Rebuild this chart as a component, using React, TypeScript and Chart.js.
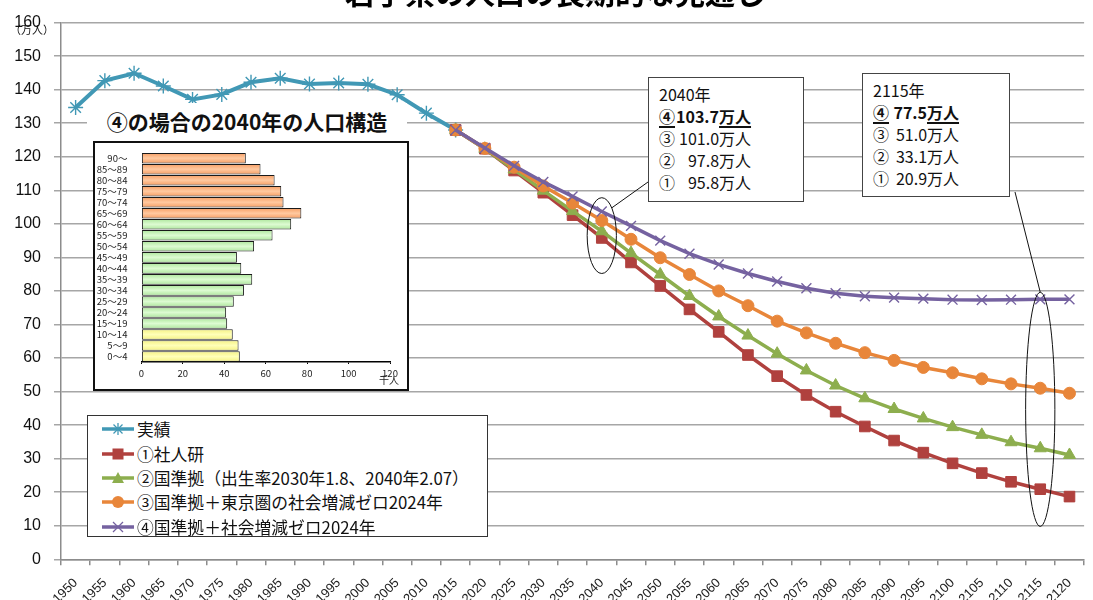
import React, { useEffect, useRef } from "react";
import { Chart, registerables } from "chart.js";

Chart.register(...registerables);

const JP = '"Noto Sans CJK JP", "Noto Sans", sans-serif';

// 年（国勢調査・推計年）
const years = [
  "1950", "1955", "1960", "1965", "1970", "1975", "1980", "1985", "1990", "1995",
  "2000", "2005", "2010", "2015", "2020", "2025", "2030", "2035", "2040", "2045",
  "2050", "2055", "2060", "2065", "2070", "2075", "2080", "2085", "2090", "2095",
  "2100", "2105", "2110", "2115", "2120",
];

// 実績（万人）1950–2015
const actual = [134.7, 142.7, 144.9, 141.1, 137.1, 138.6, 142.2, 143.4, 141.7, 142.0, 141.6, 138.5, 133.0, 128.0];

// 推計（万人）2015–2120
const projIpss = [128.0, 122.4, 115.9, 109.3, 102.6, 95.8, 88.5, 81.5, 74.5, 67.8, 60.9, 54.6, 49.0, 44.0, 39.6, 35.4, 31.8, 28.6, 25.7, 23.1, 20.9, 18.7];
const projNational = [128.0, 122.4, 116.2, 109.9, 103.8, 97.8, 91.3, 84.9, 78.5, 72.4, 66.7, 61.3, 56.3, 51.8, 48.0, 44.8, 42.0, 39.4, 37.1, 34.9, 33.1, 31.1];
const projTokyoZero = [128.0, 122.5, 116.9, 111.3, 106.2, 101.0, 95.4, 89.9, 84.9, 80.0, 75.6, 71.0, 67.5, 64.4, 61.6, 59.3, 57.2, 55.6, 53.8, 52.3, 51.0, 49.5];
const projSocialZero = [128.0, 122.6, 117.3, 112.5, 108.2, 103.7, 99.4, 95.0, 91.1, 87.9, 85.2, 82.8, 80.8, 79.3, 78.4, 78.0, 77.7, 77.4, 77.3, 77.4, 77.5, 77.5];

const yTicks = { min: 0, max: 160, step: 10 };

// ④の場合の2040年の人口構造（千人）
const ageGroups = [
  "90～", "85～89", "80～84", "75～79", "70～74", "65～69", "60～64", "55～59", "50～54",
  "45～49", "40～44", "35～39", "30～34", "25～29", "20～24", "15～19", "10～14", "5～9", "0～4",
];
const pop2040 = [50.4, 57.5, 64.3, 67.5, 68.6, 77.2, 72.3, 63.3, 54.4, 46.1, 48.2, 53.5, 49.5, 44.6, 40.9, 41.4, 44.1, 46.9, 47.5];
const pyramidTicks = { min: 0, max: 120, step: 20 };

// 楕円で囲む年と範囲（万人）
const callouts = [
  { year: "2040", top: 107.8, bottom: 85.2, angle: -47, anchor: [648, 182] },
  { year: "2115", top: 79.6, bottom: 9.8, angle: -90, anchor: [1015, 192] },
];

const COLORS = {
  actual: "#4198B5",
  ipss: "#B0413E",
  national: "#8DAE4E",
  tokyo: "#E8863A",
  social: "#7562A0",
};

// 年齢区分ごとの棒の色（縁, 中央）
const BAR_SHADES = {
  elderly: ["#F5975A", "#FFC9A0"],
  working: ["#A6E394", "#DDFBD2"],
  young: ["#F4F07A", "#FFFFB8"],
};

const startIdx = years.indexOf("2015");
const pad = (arr: number[]) => [...Array(startIdx).fill(null), ...arr];

const legendItems = [
  { label: "実績", color: COLORS.actual, marker: "star" },
  { label: "①社人研", color: COLORS.ipss, marker: "rect" },
  { label: "②国準拠（出生率2030年1.8、2040年2.07）", color: COLORS.national, marker: "triangle" },
  { label: "③国準拠＋東京圏の社会増減ゼロ2024年", color: COLORS.tokyo, marker: "circle" },
  { label: "④国準拠＋社会増減ゼロ2024年", color: COLORS.social, marker: "cross" },
];

const box2040 = [
  { c: "④", v: "103.7", bold: true },
  { c: "③", v: "101.0" },
  { c: "②", v: "97.8" },
  { c: "①", v: "95.8" },
];
const box2115 = [
  { c: "④", v: "77.5", bold: true },
  { c: "③", v: "51.0" },
  { c: "②", v: "33.1" },
  { c: "①", v: "20.9" },
];

const calloutPlugin = {
  id: "callouts",
  afterDatasetsDraw(chart: any) {
    const { ctx, scales } = chart;
    const x = scales.x;
    const y = scales.y;
    const w = x.getPixelForValue(1) - x.getPixelForValue(0);
    ctx.save();
    ctx.strokeStyle = "#111";
    ctx.lineWidth = 1;
    for (const c of callouts) {
      const cx = x.getPixelForValue(years.indexOf(c.year));
      const top = y.getPixelForValue(c.top);
      const bottom = y.getPixelForValue(c.bottom);
      const cy = (top + bottom) / 2;
      const rx = w / 2;
      const ry = (bottom - top) / 2;
      ctx.beginPath();
      ctx.ellipse(cx, cy, rx, ry, 0, 0, Math.PI * 2);
      ctx.stroke();
      const t = (c.angle * Math.PI) / 180;
      ctx.beginPath();
      ctx.moveTo(cx + rx * Math.cos(t), cy + ry * Math.sin(t));
      ctx.lineTo(c.anchor[0], c.anchor[1]);
      ctx.stroke();
    }
    ctx.restore();
  },
};

function LegendMarker({ color, marker }: { color: string; marker: string }) {
  const cx = 16;
  const cy = 7;
  let m: React.ReactNode = null;
  if (marker === "star") {
    m = (
      <g stroke={color} strokeWidth={1.3}>
        <line x1={cx - 6} y1={cy} x2={cx + 6} y2={cy} />
        <line x1={cx - 4.5} y1={cy - 4.5} x2={cx + 4.5} y2={cy + 4.5} />
        <line x1={cx - 4.5} y1={cy + 4.5} x2={cx + 4.5} y2={cy - 4.5} />
        <line x1={cx} y1={cy - 6} x2={cx} y2={cy + 6} />
      </g>
    );
  } else if (marker === "rect") {
    m = <rect x={cx - 5.5} y={cy - 5.5} width={11} height={11} fill={color} />;
  } else if (marker === "triangle") {
    m = <polygon points={`${cx},${cy - 6} ${cx + 6},${cy + 5} ${cx - 6},${cy + 5}`} fill={color} />;
  } else if (marker === "circle") {
    m = <circle cx={cx} cy={cy} r={6} fill={color} />;
  } else {
    m = (
      <g stroke={color} strokeWidth={1.3}>
        <line x1={cx - 5} y1={cy - 5} x2={cx + 5} y2={cy + 5} />
        <line x1={cx - 5} y1={cy + 5} x2={cx + 5} y2={cy - 5} />
      </g>
    );
  }
  return (
    <svg width={34} height={14} style={{ display: "block" }}>
      <line x1={0} y1={cy} x2={32} y2={cy} stroke={color} strokeWidth={3.5} />
      {m}
    </svg>
  );
}

function ValueBox({ left, top, width, height, year, rows, numWidth }: any) {
  return (
    <div
      style={{
        position: "absolute",
        left,
        top,
        width,
        height,
        boxSizing: "border-box",
        border: "1.5px solid #444",
        background: "#fff",
        padding: "5px 0 0 10px",
        fontFamily: JP,
        fontSize: 16,
        lineHeight: "22px",
        color: "#111",
      }}
    >
      <div>{year}</div>
      {rows.map((r: any) => (
        <div key={r.c} style={{ whiteSpace: "nowrap" }}>
          <span
            style={{
              fontWeight: r.bold ? 700 : 400,
              textDecoration: r.bold ? "underline" : "none",
              textDecorationThickness: "1.5px",
              textUnderlineOffset: "3px",
            }}
          >
            {r.c}
            <span style={{ display: "inline-block", width: numWidth, textAlign: "right" }}>{r.v}</span>
            万人
          </span>
        </div>
      ))}
    </div>
  );
}

export default function App() {
  const mainRef = useRef<HTMLCanvasElement>(null);
  const insetRef = useRef<HTMLCanvasElement>(null);

  useEffect(() => {
    const line = (label: string, data: any[], color: string, style: any, radius: number, order: number, extra: any = {}) => ({
      label,
      data,
      borderColor: color,
      backgroundColor: color,
      borderWidth: 3.5,
      pointStyle: style,
      pointRadius: radius,
      pointBorderColor: color,
      pointBackgroundColor: color,
      pointBorderWidth: 1,
      tension: 0,
      spanGaps: false,
      order,
      ...extra,
    });

    const main = new Chart(mainRef.current!, {
      type: "line",
      data: {
        labels: years,
        datasets: [
          line("実績", actual, COLORS.actual, "star", 7.5, 4, { borderWidth: 4, pointBorderWidth: 1.4 }),
          line("①社人研", pad(projIpss), COLORS.ipss, "rect", 7.5, 3),
          line("②国準拠", pad(projNational), COLORS.national, "triangle", 7, 2),
          line("③国準拠＋東京圏の社会増減ゼロ", pad(projTokyoZero), COLORS.tokyo, "circle", 6, 1),
          line("④国準拠＋社会増減ゼロ", pad(projSocialZero), COLORS.social, "crossRot", 7, 0, { pointBorderWidth: 1.4 }),
        ],
      },
      options: {
        animation: false,
        responsive: false,
        maintainAspectRatio: false,
        layout: { padding: { top: 14, left: 0, right: 0, bottom: 0 } },
        plugins: {
          legend: { display: false },
          tooltip: { enabled: false },
          title: { display: false },
        },
        scales: {
          x: {
            offset: true,
            grid: { offset: true, drawOnChartArea: false, tickLength: 6, color: "#8c8c8c", lineWidth: 1.5 },
            border: { color: "#8c8c8c", width: 1.5 },
            ticks: {
              autoSkip: false,
              minRotation: 45,
              maxRotation: 45,
              padding: 10,
              color: "#222",
              font: { family: '"Liberation Sans", sans-serif', size: 13 },
            },
            afterFit: (s: any) => {
              s.height = 40.7;
              s.paddingLeft = 0;
              s.paddingRight = 0;
            },
          },
          y: {
            min: yTicks.min,
            max: yTicks.max,
            ticks: {
              stepSize: yTicks.step,
              padding: 13,
              color: "#111",
              font: { family: '"Liberation Sans", sans-serif', size: 16 },
            },
            grid: { color: "#a6a6a6", lineWidth: 1.5, tickLength: 7 },
            border: { color: "#8c8c8c", width: 1.5 },
            afterFit: (s: any) => {
              s.width = 61;
            },
          },
        },
      },
      plugins: [calloutPlugin],
    });

    const shadeFor = (i: number) => (i <= 5 ? BAR_SHADES.elderly : i <= 15 ? BAR_SHADES.working : BAR_SHADES.young);

    const inset = new Chart(insetRef.current!, {
      type: "bar",
      data: {
        labels: ageGroups,
        datasets: [
          {
            data: pop2040,
            backgroundColor: (c: any) => {
              const [edge, mid] = shadeFor(c.dataIndex);
              const ys = c.chart.scales && c.chart.scales.y;
              if (!ys || c.dataIndex === undefined) return mid;
              const cy = ys.getPixelForValue(c.dataIndex);
              if (!Number.isFinite(cy)) return mid;
              const h = 6;
              const g = c.chart.ctx.createLinearGradient(0, cy - h, 0, cy + h);
              g.addColorStop(0, edge);
              g.addColorStop(0.5, mid);
              g.addColorStop(1, edge);
              return g;
            },
            borderColor: "#1a1a1a",
            borderWidth: 1,
            borderSkipped: false,
            barPercentage: 0.96,
            categoryPercentage: 1,
          },
        ],
      },
      options: {
        indexAxis: "y",
        animation: false,
        responsive: false,
        maintainAspectRatio: false,
        layout: { padding: { top: 10, right: 19, left: 0, bottom: 0 } },
        plugins: { legend: { display: false }, tooltip: { enabled: false } },
        scales: {
          x: {
            min: pyramidTicks.min,
            max: pyramidTicks.max,
            ticks: { stepSize: pyramidTicks.step, padding: 4, color: "#222", font: { family: JP, size: 9.5 } },
            grid: { drawOnChartArea: false, tickLength: 2, color: "#000" },
            border: { color: "#000", width: 1.5 },
            afterFit: (s: any) => {
              s.height = 29;
              s.paddingLeft = 0;
              s.paddingRight = 0;
            },
          },
          y: {
            ticks: { autoSkip: false, padding: 6, color: "#222", font: { family: JP, size: 9.5 } },
            grid: { display: false },
            border: { display: false },
            afterFit: (s: any) => {
              s.width = 48.4;
            },
          },
        },
      },
    });

    return () => {
      main.destroy();
      inset.destroy();
    };
  }, []);

  return (
    <div
      style={{
        position: "fixed",
        left: 0,
        top: 0,
        width: 1093,
        height: 600,
        overflow: "hidden",
        background: "#fff",
        fontFamily: JP,
      }}
    >
      <canvas ref={mainRef} width={1093} height={600} style={{ position: "absolute", left: 0, top: 0, width: 1093, height: 600 }} />

      <div
        style={{
          position: "absolute",
          left: 340,
          top: -24,
          width: 430,
          textAlign: "center",
          fontSize: 30,
          lineHeight: "30px",
          fontWeight: 700,
          color: "#000",
          whiteSpace: "nowrap",
        }}
      >
        岩手県の人口の長期的な見通し
      </div>

      <div style={{ position: "absolute", left: 10, top: 23, fontSize: 11, lineHeight: "13px", color: "#111" }}>（万人）</div>

      {/* inset: 2040 population structure */}
      <div
        style={{
          position: "absolute",
          left: 87,
          top: 103,
          width: 320,
          height: 37,
          background: "#fff",
          textAlign: "center",
          fontSize: 21,
          lineHeight: "37px",
          fontWeight: 700,
          color: "#111",
          whiteSpace: "nowrap",
        }}
      >
        ④の場合の2040年の人口構造
      </div>
      <div style={{ position: "absolute", left: 93, top: 141, width: 316, height: 250, background: "#fff" }}>
        <canvas ref={insetRef} width={316} height={250} style={{ position: "absolute", left: 0, top: 0, width: 316, height: 250 }} />
        <div
          style={{
            position: "absolute",
            left: 0,
            top: 0,
            width: 316,
            height: 250,
            boxSizing: "border-box",
            border: "2px solid #111",
          }}
        />
        <div style={{ position: "absolute", left: 286, top: 233, fontSize: 10, lineHeight: "12px", color: "#222" }}>千人</div>
      </div>

      {/* legend */}
      <div
        style={{
          position: "absolute",
          left: 87,
          top: 415,
          width: 401,
          height: 122,
          boxSizing: "border-box",
          border: "1.5px solid #333",
          background: "#fff",
          padding: "1px 0 0 14px",
        }}
      >
        {legendItems.map((it) => (
          <div key={it.label} style={{ display: "flex", alignItems: "center", height: 24.4 }}>
            <LegendMarker color={it.color} marker={it.marker} />
            <span style={{ fontSize: 16.8, lineHeight: "20px", color: "#111", marginLeft: 1, whiteSpace: "nowrap" }}>{it.label}</span>
          </div>
        ))}
      </div>

      <ValueBox left={648} top={77} width={156} height={125} year="2040年" rows={box2040} numWidth={44} />
      <ValueBox left={862} top={73} width={148} height={124} year="2115年" rows={box2115} numWidth={38} />
    </div>
  );
}
